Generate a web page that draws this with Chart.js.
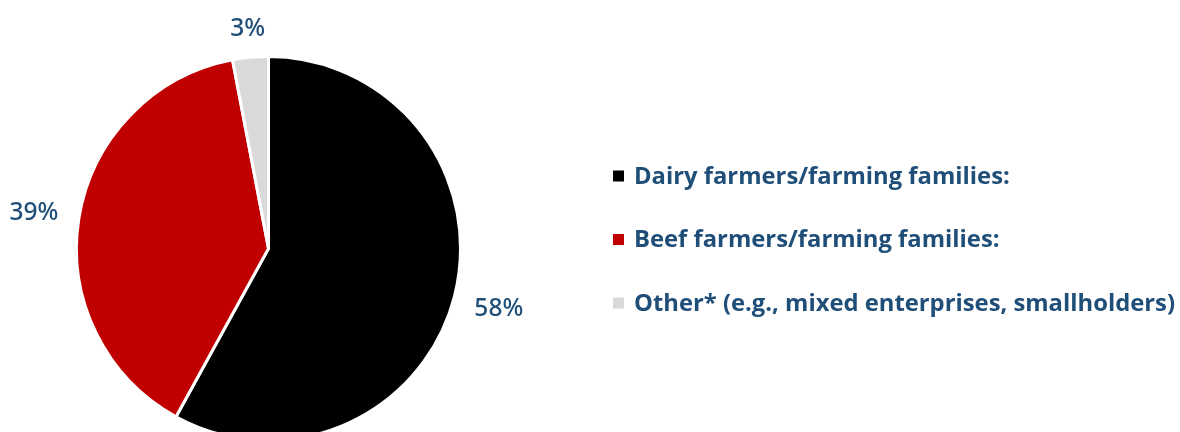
<!DOCTYPE html>
<html>
<head>
<meta charset="utf-8">
<script src="https://cdn.jsdelivr.net/npm/chart.js@4.4.1/dist/chart.umd.min.js"></script>
<style>
  html, body { margin: 0; padding: 0; background: #fff; overflow: hidden; }
  #wrap { position: relative; width: 1180px; height: 460px; }
</style>
</head>
<body>
<div id="wrap"><canvas id="pie"></canvas></div>
<script>
const categories = [
  "Dairy farmers/farming families:",
  "Beef farmers/farming families:",
  "Other* (e.g., mixed enterprises, smallholders)"
];
const shares = [58, 39, 3];
const sliceColours = ["#000000", "#C00000", "#D9D9D9"];

const TEXT = "#1F4E79";

// percentage labels just outside each slice
const outerLabels = {
  id: "outerLabels",
  afterDatasetsDraw(chart) {
    const ctx = chart.ctx;
    const meta = chart.getDatasetMeta(0);
    ctx.save();
    ctx.font = "500 24.5px 'Noto Sans'";
    ctx.fillStyle = TEXT;
    ctx.textAlign = "center";
    ctx.textBaseline = "middle";
    meta.data.forEach((arc, i) => {
      const mid = (arc.startAngle + arc.endAngle) / 2;
      const dx = Math.cos(mid), dy = Math.sin(mid);
      const txt = shares[i] + "%";
      const hw = ctx.measureText(txt).width / 2, hh = 8.5;
      const dist = arc.outerRadius + 20 + Math.abs(dx) * hw + Math.abs(dy) * hh;
      ctx.fillText(txt, arc.x + dx * dist, arc.y + dy * dist + 1.5);
    });
    ctx.restore();
  }
};

// legend block on the right
const sideLegend = {
  id: "sideLegend",
  afterDraw(chart) {
    const ctx = chart.ctx;
    ctx.save();
    ctx.font = "700 23.8px 'Open Sans'";
    ctx.textBaseline = "middle";
    categories.forEach((name, i) => {
      const y = 177 + i * 63.5;
      ctx.fillStyle = sliceColours[i];
      ctx.fillRect(613, y - 6.5, 11, 11);
      ctx.fillStyle = TEXT;
      ctx.fillText(name, 634, y);
    });
    ctx.restore();
  }
};

new Chart(document.getElementById("pie"), {
  type: "pie",
  data: {
    labels: categories,
    datasets: [{
      data: shares,
      backgroundColor: sliceColours,
      borderColor: "#ffffff",
      borderWidth: 3
    }]
  },
  options: {
    responsive: true,
    maintainAspectRatio: false,
    animation: false,
    layout: { padding: { left: 75, top: 55, right: 718, bottom: 18 } },
    plugins: {
      legend: { display: false },
      tooltip: { enabled: false }
    }
  },
  plugins: [outerLabels, sideLegend]
});
</script>
</body>
</html>
